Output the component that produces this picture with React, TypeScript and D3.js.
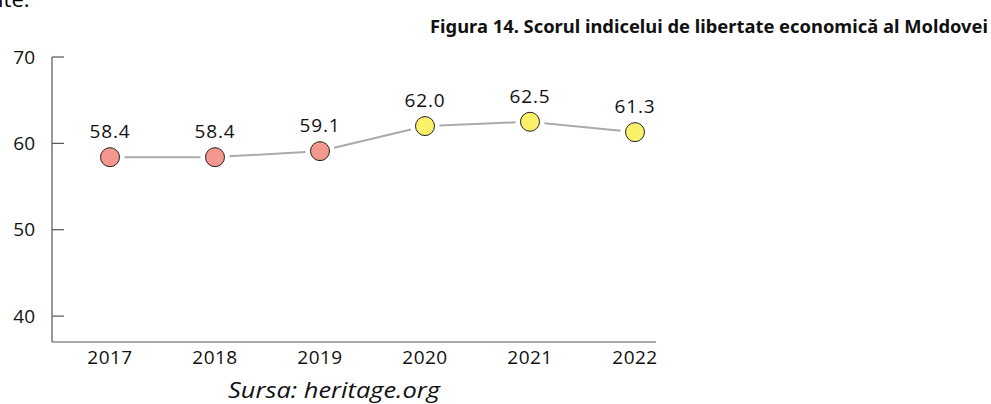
import React from "react";
import * as d3 from "d3";

// date
const years = [2017, 2018, 2019, 2020, 2021, 2022];
const scores = [58.4, 58.4, 59.1, 62.0, 62.5, 61.3];
const yTicks = [40, 50, 60, 70];

const title = "Figura 14. Scorul indicelui de libertate economică al Moldovei";
const source = "Sursa: heritage.org";

const W = 991;
const H = 404;
const font = "'Open Sans', 'Noto Sans', sans-serif";

const App = () => {
  const axisLeft = 52;
  const axisRight = 656;
  const x = d3.scaleLinear().domain([2017, 2022]).range([110, 635]);
  const y = d3.scaleLinear().domain([37, 70]).range([342, 57]);
  const r = 9.5;
  const gap = 5;

  const pts = years.map((yr, i) => ({ yr, v: scores[i], cx: x(yr), cy: y(scores[i]) }));

  // segmenty linii scurtate langa cercuri
  const segs = pts.slice(1).map((p, i) => {
    const a = pts[i];
    const dx = p.cx - a.cx;
    const dy = p.cy - a.cy;
    const len = Math.sqrt(dx * dx + dy * dy);
    const k = (r + gap) / len;
    return [
      [a.cx + dx * k, a.cy + dy * k],
      [p.cx - dx * k, p.cy - dy * k],
    ] as [number, number][];
  });
  const line = d3.line();

  return (
    <svg
      width={W}
      height={H}
      style={{ position: "absolute", left: 0, top: 0, background: "#fff" }}
      fontFamily={font}
    >
      <text x={-2} y={7} fontSize={22} fill="#000">ite.</text>
      <text
        x={988}
        y={33}
        textAnchor="end"
        fontSize={18}
        fontWeight="bold"
        fontFamily="'Noto Sans', sans-serif"
        fill="#111"
        textLength={558}
        lengthAdjust="spacingAndGlyphs"
      >
        {title}
      </text>

      {/* axa y */}
      <line x1={axisLeft} x2={axisLeft} y1={y(70)} y2={y(37)} stroke="#555" strokeWidth={1.2} />
      {yTicks.map((t) => (
        <g key={t}>
          <line x1={axisLeft} x2={axisLeft + 12} y1={y(t)} y2={y(t)} stroke="#555" strokeWidth={1.2} />
          <text x={35} y={y(t)} dy="0.35em" textAnchor="end" fontSize={19} fill="#111">
            {t}
          </text>
        </g>
      ))}

      {/* axa x */}
      <line x1={axisLeft} x2={axisRight} y1={y(37)} y2={y(37)} stroke="#555" strokeWidth={1.2} />
      {years.map((yr) => (
        <text key={yr} x={x(yr)} y={364} textAnchor="middle" fontSize={19} letterSpacing={0.5} fill="#111">
          {yr}
        </text>
      ))}

      {segs.map((s, i) => (
        <path key={i} d={line(s) || ""} stroke="#aaaaaa" strokeWidth={2} fill="none" />
      ))}

      {pts.map((p) => (
        <g key={p.yr}>
          <circle
            cx={p.cx}
            cy={p.cy}
            r={r}
            fill={p.v < 60 ? "#f4978e" : "#fbf06a"}
            stroke="#222"
            strokeWidth={1}
          />
          <text x={p.cx} y={p.cy - 19} textAnchor="middle" fontSize={19} letterSpacing={0.8} fill="#111">
            {p.v.toFixed(1)}
          </text>
        </g>
      ))}

      <text
        x={334}
        y={398}
        textAnchor="middle"
        fontSize={22}
        fontStyle="italic"
        fill="#111"
        textLength={212}
        lengthAdjust="spacingAndGlyphs"
      >
        {source}
      </text>
    </svg>
  );
};

export default App;
